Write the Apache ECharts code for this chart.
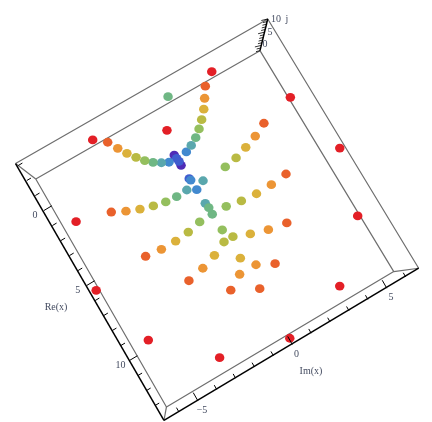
<!DOCTYPE html>
<html>
<head>
<meta charset="utf-8">
<style>
  html, body { margin: 0; padding: 0; background: #fff; }
  #chart { width: 432px; height: 422px; }
</style>
<script src="https://cdn.jsdelivr.net/npm/echarts@6/dist/echarts.min.js"></script>
</head>
<body>
<div id="chart"></div>
<script>
// eigenvalues read against the printed Re(x) / Im(x) axes, one row per level j = 0..10
const reByLevel = [
  [-2.07, -0.35, -1.94, 1.66, 5.65, 9.56, 12.52, 13.64, 12.53, 9.54, 5.52, 1.51],
  [-1.51, -1.41, 2.17, 5.35, 7.81, 9.49, 10.28, 9.50, 7.79, 5.29, 2.07],
  [-0.91, -0.83, 2.55, 5.45, 7.60, 8.98, 8.97, 7.58, 5.41, 2.46],
  [-0.39, -0.31, 2.83, 5.46, 7.28, 8.19, 7.28, 5.42, 2.77],
  [0.08, 0.15, 3.07, 5.37, 6.90, 6.90, 5.35, 3.01],
  [0.50, 0.53, 3.20, 5.19, 6.25, 5.18, 3.18],
  [0.83, 0.87, -1.99, 5.17, 4.74, 3.24],
  [1.10, 1.12, 4.42, 3.23, 3.21],
  [1.30, 1.30, 3.49, 2.83],
  [1.33, 1.55, 2.72],
  [1.10, 1.81]
]
const imByLevel = [
  [-3.28, -0.13, 2.96, 5.49, 6.30, 5.48, 3.19, 0.04, -3.17, -5.59, -6.53, -5.78],
  [-2.74, 2.38, 3.86, 3.59, 2.52, 1.14, -0.03, -1.21, -2.65, -3.81, -4.17],
  [-2.48, 2.08, 3.23, 2.77, 1.64, 0.36, -0.50, -1.82, -3.03, -3.57],
  [-2.23, 1.80, 2.60, 1.98, 0.83, -0.11, -1.07, -2.28, -2.97],
  [-1.96, 1.48, 1.98, 1.22, 0.08, -0.39, -1.58, -2.37],
  [-1.69, 1.17, 1.35, 0.50, -0.19, -0.90, -1.79],
  [-1.40, 0.84, 0.67, -0.23, -0.22, -1.24],
  [-1.08, 0.49, -0.26, 0.16, -0.69],
  [-0.77, 0.15, -0.29, -0.31],
  [-0.38, -0.35, -0.34],
  [-0.40, -0.36]
]
const levelColors = ['#e31f26', '#e9612b', '#ec9535', '#dbb13b', '#b9ba43', '#94bf5e',
  '#6fb784', '#5aa7ad', '#4289cf', '#3f5dcf', '#4f2cb6']

// box corners as [re, im]: the near frame and the far frame of the 3D box
const nearFrame = { a: [-3.18, -6.86], t: [-2.91, 6.36], r: [13.97, 6.71], b: [14.0, -6.78] }
const farFrame = { a: [-1.81, -6.41], t: [-1.56, 5.34], r: [13.40, 5.65], b: [13.41, -6.38] }

const reTicks = [-3, -2, -1, 0, 1, 2, 3, 4, 5, 6, 7, 8, 9, 10, 11, 12, 13]
const imTicks = [-6, -5, -4, -3, -2, -1, 0, 1, 2, 3, 4, 5, 6]
const jTicks = [-2, -1, 0, 1, 2, 3, 4, 5, 6, 7, 8, 9, 10]
const jRange = [-2, 10]

const reLabels = [0, 5, 10]
const imLabels = [-5, 0, 5]
const jLabels = [0, 5, 10]

// the view is a rotated projection, so re/im go through this before the axes
function project(p) {
  return [172.4 + 8.55 * p[0] + 18.9 * p[1], 134.1 + 15 * p[0] - 11.24 * p[1]]
}

function lineSeries(points, color, width, z) {
  return {
    type: 'line',
    data: points.map(project),
    showSymbol: false,
    silent: true,
    animation: false,
    z: z,
    lineStyle: { color: color, width: width }
  }
}

function textSeries(items) {
  return {
    type: 'scatter',
    symbolSize: 0,
    silent: true,
    animation: false,
    z: 8,
    data: items.map(it => ({
      value: project(it.at),
      label: {
        show: true,
        position: 'inside',
        formatter: it.text,
        color: '#0a1430',
        fontFamily: '"Liberation Serif"',
        fontSize: 10
      }
    }))
  }
}

const series = []
const gray = '#6e6e6e'

// box edges
series.push(lineSeries([nearFrame.a, nearFrame.t, nearFrame.r], gray, 1.2, 1))
series.push(lineSeries([farFrame.a, farFrame.t, farFrame.r, farFrame.b, farFrame.a], gray, 1.2, 1))
series.push(lineSeries([nearFrame.a, farFrame.a], gray, 1.2, 1))
series.push(lineSeries([nearFrame.r, farFrame.r], gray, 1.2, 1))
series.push(lineSeries([nearFrame.b, farFrame.b], gray, 1.2, 1))

// points, top level drawn first so red ends up on top
for (let j = levelColors.length - 1; j >= 0; j--) {
  series.push({
    type: 'scatter',
    name: 'j=' + j,
    symbolSize: [9.5, 8.8],
    silent: true,
    animation: false,
    z: 3,
    itemStyle: { color: levelColors[j], opacity: 1 },
    data: reByLevel[j].map((re, i) => project([re, imByLevel[j][i]]))
  })
}

// black axes
series.push(lineSeries([nearFrame.a, nearFrame.b], '#000', 1.5, 5))
series.push(lineSeries([nearFrame.b, nearFrame.r], '#000', 1.5, 5))
series.push(lineSeries([farFrame.t, nearFrame.t], '#000', 1.5, 5))

const reAxisIm = -6.8
reTicks.forEach(re => {
  const len = re % 5 === 0 ? 0.42 : 0.22
  series.push(lineSeries([[re, reAxisIm], [re, reAxisIm + len]], '#000', 1, 5))
})
const imAxisRe = 14.02
imTicks.forEach(im => {
  const len = im % 5 === 0 ? 0.53 : 0.28
  series.push(lineSeries([[imAxisRe, im], [imAxisRe - len, im]], '#000', 1, 5))
})
jTicks.forEach(j => {
  const f = (j - jRange[0]) / (jRange[1] - jRange[0])
  const re = farFrame.t[0] + f * (nearFrame.t[0] - farFrame.t[0])
  const im = farFrame.t[1] + f * (nearFrame.t[1] - farFrame.t[1])
  const k = j % 5 === 0 ? 1.6 : 1
  series.push(lineSeries([[re, im], [re - 0.07 * k, im - 0.18 * k]], '#000', 0.8, 5))
})

// tick labels and axis titles
const texts = []
reLabels.forEach(v => texts.push({ at: [v, -7.27], text: String(v) }))
imLabels.forEach(v => texts.push({ at: [14.62, v - 0.05], text: v < 0 ? '\u2212' + (-v) : String(v) }))
const jLabelRe = [-1.74, -2.19, -2.64]
const jLabelIm = [5.69, 6.16, 6.68]
jLabels.forEach((v, i) => texts.push({ at: [jLabelRe[i], jLabelIm[i]], text: String(v) }))
texts.push({ at: [5.16, -8.49], text: 'Re(x)' })
texts.push({ at: [15.9, 0.14], text: 'Im(x)' })
texts.push({ at: [-2.34, 7.12], text: 'j' })
series.push(textSeries(texts))

const chart = echarts.init(document.getElementById('chart'), null, { renderer: 'canvas' })
chart.setOption({
  animation: false,
  backgroundColor: '#fff',
  grid: { left: 0, right: 0, top: 0, bottom: 0 },
  xAxis: { type: 'value', min: 0, max: 432, show: false },
  yAxis: { type: 'value', min: 0, max: 422, inverse: true, show: false },
  series: series
})
</script>
</body>
</html>
